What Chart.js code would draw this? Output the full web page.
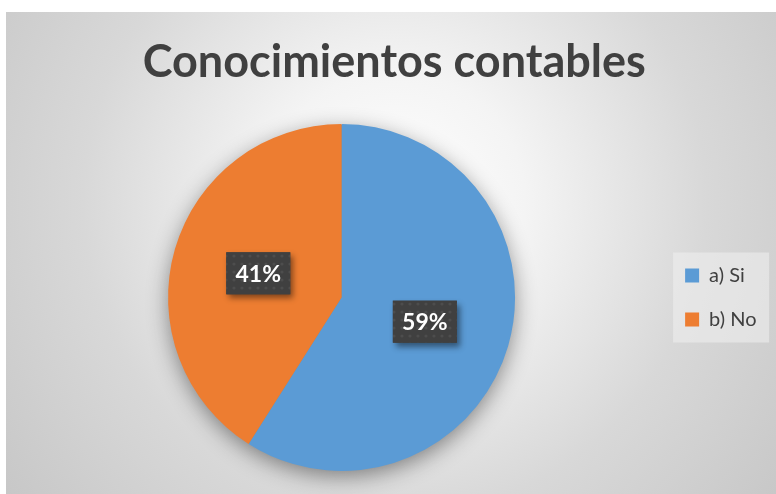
<!DOCTYPE html>
<html>
<head>
<meta charset="utf-8">
<script src="https://cdn.jsdelivr.net/npm/chart.js@4.4.1/dist/chart.umd.min.js"></script>
<style>
  html, body { margin: 0; padding: 0; background: #fff; overflow: hidden; width: 776px; height: 494px; }
  #wrap { position: absolute; left: 6px; top: 12px; }
</style>
</head>
<body>
<div id="wrap"><canvas id="c" width="778" height="482"></canvas></div>
<script>
// Conocimientos contables - pie with boxed % labels
const TITLE = 'Conocimientos contables';
const categories = ['a) Si', 'b) No'];
const values = [59, 41];
const colors = ['#5B9BD5', '#ED7D31'];

function makeDots() {
  const p = document.createElement('canvas');
  p.width = 8; p.height = 8;
  const g = p.getContext('2d');
  g.fillStyle = '#404040';
  g.fillRect(0, 0, 8, 8);
  g.fillStyle = 'rgba(255,255,255,0.07)';
  g.beginPath(); g.arc(4, 4, 1.6, 0, Math.PI * 2); g.fill();
  return p;
}

const bgPlugin = {
  id: 'bg',
  beforeDraw(chart) {
    const { ctx, width, height } = chart;
    ctx.save();
    const g = ctx.createRadialGradient(width / 2, 190, 0, width / 2, 190, 520);
    g.addColorStop(0, '#ffffff');
    g.addColorStop(0.25, '#f4f4f4');
    g.addColorStop(0.6, '#d8d8d8');
    g.addColorStop(1, '#c4c4c4');
    ctx.fillStyle = g;
    ctx.fillRect(0, 0, width, height);
    // legend panel
    const hb = chart.legend && chart.legend.legendHitBoxes;
    if (hb && hb.length) {
      const first = hb[0], last = hb[hb.length - 1];
      const left = first.left - 12;
      const top = first.top + first.height / 2 - 23;
      const bottom = last.top + last.height / 2 + 23;
      ctx.fillStyle = 'rgba(240,240,240,0.55)';
      ctx.fillRect(left, top, 96, bottom - top);
    }
    ctx.restore();
  },
  beforeDatasetsDraw(chart) {
    const arc = chart.getDatasetMeta(0).data[0];
    if (!arc) return;
    const { ctx } = chart;
    ctx.save();
    ctx.shadowColor = 'rgba(0,0,0,0.45)';
    ctx.shadowBlur = 22;
    ctx.shadowOffsetY = 6;
    ctx.fillStyle = '#888';
    ctx.beginPath();
    ctx.arc(arc.x, arc.y, arc.outerRadius - 1, 0, Math.PI * 2);
    ctx.fill();
    ctx.restore();
  }
};

const labelPlugin = {
  id: 'boxLabels',
  afterDatasetsDraw(chart) {
    const { ctx } = chart;
    const pat = ctx.createPattern(makeDots(), 'repeat');
    chart.getDatasetMeta(0).data.forEach((arc, i) => {
      const p = arc.tooltipPosition();
      const w = 64, h = 42;
      const x = p.x - w / 2, y = p.y - h / 2;
      ctx.save();
      ctx.shadowColor = 'rgba(0,0,0,0.45)';
      ctx.shadowBlur = 6;
      ctx.shadowOffsetX = 3;
      ctx.shadowOffsetY = 4;
      ctx.fillStyle = '#404040';
      ctx.fillRect(x, y, w, h);
      ctx.restore();
      ctx.save();
      ctx.fillStyle = pat;
      ctx.fillRect(x, y, w, h);
      ctx.fillStyle = '#ffffff';
      ctx.font = 'bold 23px Lato';
      ctx.textAlign = 'center';
      ctx.textBaseline = 'middle';
      ctx.fillText(values[i] + '%', p.x, p.y + 1);
      ctx.restore();
    });
  }
};

new Chart(document.getElementById('c'), {
  type: 'pie',
  data: {
    labels: categories,
    datasets: [{ data: values, backgroundColor: colors, borderWidth: 0 }]
  },
  options: {
    responsive: false,
    animation: false,
    layout: { padding: { left: 16, right: 17.5, top: 0, bottom: 23 } },
    plugins: {
      title: {
        display: true, text: TITLE, color: '#404040',
        font: { family: 'Lato', size: 45, weight: 'bold', lineHeight: 1.2 },
        padding: { top: 23.7, bottom: 34.3 }
      },
      legend: {
        position: 'right',
        fullSize: false,
        labels: {
          color: '#404040', boxWidth: 14, boxHeight: 14, padding: 24,
          font: { family: 'Lato', size: 20 }
        }
      },
      tooltip: { enabled: false }
    }
  },
  plugins: [bgPlugin, labelPlugin]
});
</script>
</body>
</html>
